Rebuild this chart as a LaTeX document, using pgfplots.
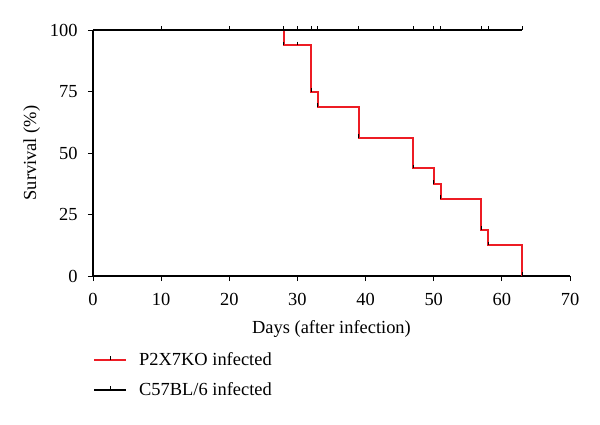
\documentclass[border=0pt]{standalone}
\usepackage{fontspec}
\setmainfont{Liberation Serif}
\usepackage{pgfplots}
\pgfplotsset{compat=1.18}
\newcommand{\chartfont}{\fontsize{18.5}{22}\selectfont}
\definecolor{kmred}{RGB}{237,28,36}
\begin{document}
\begin{tikzpicture}[x=1bp,y=1bp]
\useasboundingbox (-93,-148) rectangle (507,276);
\begin{axis}[
  at={(0,0)}, anchor=south west,
  scale only axis, width=477bp, height=246bp,
  xmin=0, xmax=70, ymin=0, ymax=100,
  axis x line=bottom, axis y line=left,
  axis line style={-, line width=1.4pt, black},
  xtick={0,10,...,70}, ytick={0,25,50,75,100},
  tick align=outside, major tick length=5bp,
  tick style={black, line width=1pt},
  /pgf/number format/assume math mode=true,
  tick label style={font=\chartfont},
  xticklabel style={yshift=-9bp},
  yticklabel style={xshift=-7bp},
  label style={font=\chartfont},
  xlabel={Days (after infection)},
  ylabel={Survival (\%)},
  xlabel style={yshift=-8bp},
  ylabel style={yshift=3bp},
  clip=false,
  legend style={draw=none, fill=none, at={(0,-0.402)}, anchor=west,
    font=\chartfont, row sep=12bp, inner sep=0pt,
    /tikz/every odd column/.append style={column sep=10bp}},
  legend cell align=left,
]
\addplot[kmred, line width=2bp, no marks,
  legend image code/.code={\draw[kmred, line width=2bp] (0bp,0bp) -- (32bp,0bp);
    \draw[black, line width=1bp] (16bp,0bp) -- (16bp,4bp);}]
  coordinates {(0,100) (28,100) (28,93.75) (32,93.75) (32,75) (33,75)
    (33,68.75) (39,68.75) (39,56.25) (47,56.25) (47,43.75) (50,43.75)
    (50,37.5) (51,37.5) (51,31.25) (57,31.25) (57,18.75) (58,18.75)
    (58,12.5) (63,12.5) (63,0)};
\addlegendentry{P2X7KO infected}
\addplot[forget plot, draw=none, only marks, mark=|, mark size=1.85bp,
  mark options={black, solid, line width=1bp, yshift=1.85bp}]
  coordinates {(28,93.75) (30,93.75) (32,75) (33,68.75) (39,56.25) (47,43.75)
    (50,37.5) (51,31.25) (57,18.75) (58,12.5) (63,0)};
\addplot[black, line width=1.4pt, no marks,
  legend image code/.code={\draw[black, line width=1.4pt] (0bp,0bp) -- (32bp,0bp);
    \draw[black, line width=1bp] (16bp,0bp) -- (16bp,4bp);}]
  coordinates {(0,100) (63,100)};
\addlegendentry{C57BL/6 infected}
\addplot[forget plot, draw=none, only marks, mark=|, mark size=1.85bp,
  mark options={black, solid, line width=1bp, yshift=1.85bp}]
  coordinates {(10,100) (20,100) (28,100) (30,100) (32,100) (33,100) (39,100)
    (47,100) (50,100) (51,100) (57,100) (58,100) (63,100)};
\end{axis}
\end{tikzpicture}
\end{document}
